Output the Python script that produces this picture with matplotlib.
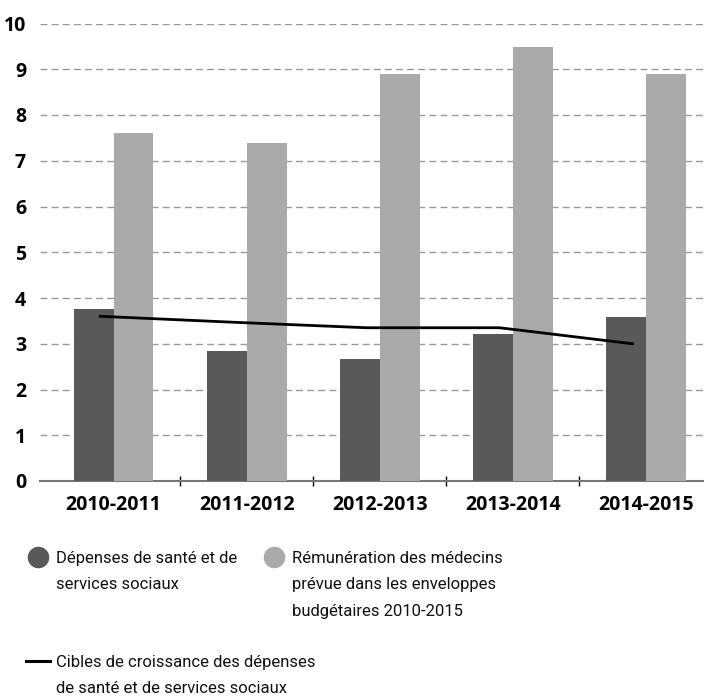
import numpy as np
import matplotlib
matplotlib.use("Agg")
import matplotlib.pyplot as plt
from matplotlib.lines import Line2D

plt.rcParams['font.family'] = ['Open Sans', 'DejaVu Sans']

# données
periodes = ["2010-2011", "2011-2012", "2012-2013", "2013-2014", "2014-2015"]
depenses = [3.76, 2.84, 2.67, 3.21, 3.58]
remuneration = [7.61, 7.39, 8.90, 9.49, 8.90]
cibles = [3.60, 3.47, 3.35, 3.35, 3.00]

lbl_dep = "Dépenses de santé et de\nservices sociaux"
lbl_rem = "Rémunération des médecins\nprévue dans les enveloppes\nbudgétaires 2010-2015"
lbl_cib = "Cibles de croissance des dépenses\nde santé et de services sociaux"

c_dark = "#595959"
c_light = "#aaaaaa"

W, H = 707, 700
fig = plt.figure(figsize=(W / 100, H / 100), dpi=100)
ax = fig.add_axes([40 / W, 1 - 481 / H, (703 - 40) / W, (481 - 23.5) / H])

x = np.arange(len(periodes))
bw = 0.3
ax.bar(x - bw / 2, depenses, width=bw, color=c_dark, zorder=3)
ax.bar(x + bw / 2, remuneration, width=bw, color=c_light, zorder=3)
ax.plot(x - 0.1, cibles, color="black", lw=2.0, zorder=4)

ax.set_xlim(-0.553, 4.43)
ax.set_ylim(0, 10)
ax.set_yticks(range(0, 11))
for v in range(1, 11):
    ax.axhline(v, color="#999999", lw=1, ls=(0, (5, 3)), zorder=1)

ax.set_xticks(x)
ax.set_xticklabels(periodes, fontsize=14, fontweight="bold")
ax.set_xticks(x[:-1] + 0.5, minor=True)
ax.tick_params(axis="x", which="major", length=0, pad=10)
ax.tick_params(axis="x", which="minor", length=7, direction="inout", width=1, color="black")
ax.tick_params(axis="y", length=0, pad=10, labelsize=14)
for t in ax.get_yticklabels():
    t.set_fontweight("bold")

for s in ["top", "right", "left"]:
    ax.spines[s].set_visible(False)
ax.spines["bottom"].set_color("#777777")
ax.spines["bottom"].set_linewidth(1.5)

leg_font = ['Roboto', 'DejaVu Sans']


def entry(handle, label, px, py):
    leg = fig.legend([handle], [label], loc="upper left",
                     bbox_to_anchor=(px / W, 1 - py / H), frameon=False,
                     prop={"family": leg_font, "size": 12}, borderpad=0,
                     borderaxespad=0, handlelength=1.45, handletextpad=0.35)
    for t in leg.get_texts():
        t.set_linespacing(1.95)
        t.set_color("#111111")
    for col in leg._legend_handle_box.get_children():
        for row in col.get_children():
            row.align = "top"
    return leg


h_dep = Line2D([], [], ls="", marker="o", ms=14.5, color=c_dark)
h_rem = Line2D([], [], ls="", marker="o", ms=14.5, color=c_light)
h_cib = Line2D([], [], color="black", lw=2.2)

entry(h_dep, lbl_dep, 26, 551)
entry(h_rem, lbl_rem, 262, 551)
entry(h_cib, lbl_cib, 26, 655)

fig.savefig("out.png", dpi=100)
